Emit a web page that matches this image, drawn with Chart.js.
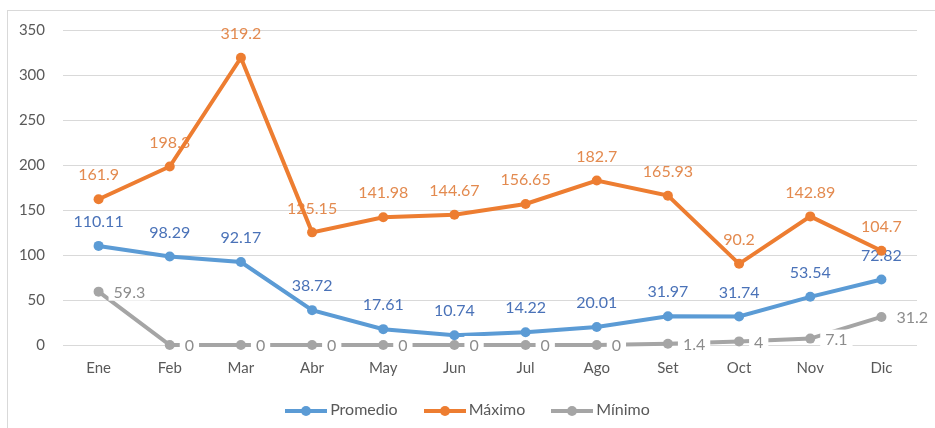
<!DOCTYPE html>
<html>
<head>
<meta charset="utf-8">
<script src="https://cdn.jsdelivr.net/npm/chart.js@4"></script>
<style>
  html, body { margin: 0; padding: 0; background: #fff; }
  #wrap { position: relative; width: 935px; height: 428px; overflow: hidden; }
  #frame { position: absolute; left: 7px; top: 10px; width: 940px; height: 430px; border: 1px solid #d9d9d9; box-sizing: border-box; }
  #chart { position: absolute; left: 0; top: 0; }
  #legend { position: absolute; left: 0; top: 397px; width: 935px; text-align: center; font-family: Lato, "Open Sans", sans-serif; font-size: 16px; color: #595959; }
  .item { display: inline-block; margin: 0 13px; vertical-align: middle; }
  .key { display: inline-block; position: relative; width: 42px; height: 12px; vertical-align: middle; margin-right: 3px; }
  .key .ln { position: absolute; left: 0; right: 0; top: 4px; height: 4px; }
  .key .dt { position: absolute; left: 16px; top: 1px; width: 10px; height: 10px; border-radius: 50%; }
</style>
</head>
<body>
<div id="wrap">
  <div id="frame"></div>
  <canvas id="chart" width="935" height="428"></canvas>
  <div id="legend"></div>
</div>
<script>
const months = ['Ene', 'Feb', 'Mar', 'Abr', 'May', 'Jun', 'Jul', 'Ago', 'Set', 'Oct', 'Nov', 'Dic'];
const promedio = [110.11, 98.29, 92.17, 38.72, 17.61, 10.74, 14.22, 20.01, 31.97, 31.74, 53.54, 72.82];
const maximo = [161.9, 198.3, 319.2, 125.15, 141.98, 144.67, 156.65, 182.7, 165.93, 90.2, 142.89, 104.7];
const minimo = [59.3, 0, 0, 0, 0, 0, 0, 0, 1.4, 4, 7.1, 31.2];
const seriesNames = ['Promedio', 'Máximo', 'Mínimo'];
const seriesColors = ['#5b9bd5', '#ed7d31', '#a5a5a5'];
const labelColors = ['#4a72b8', '#e38a4f', '#8c8c8c'];

const FONT = 'Lato, "Open Sans", sans-serif';

// labels above the line for Promedio / Máximo, drawn under the lines
// labels to the right with a white box for Mínimo, drawn on top
const valueLabels = {
  id: 'valueLabels',
  beforeDatasetsDraw(chart) {
    const ctx = chart.ctx;
    ctx.save();
    ctx.font = '16px ' + FONT;
    ctx.textAlign = 'center';
    ctx.textBaseline = 'middle';
    [0, 1].forEach(i => {
      const meta = chart.getDatasetMeta(i);
      ctx.fillStyle = labelColors[i];
      meta.data.forEach((pt, j) => {
        ctx.fillText(String(chart.data.datasets[i].data[j]), pt.x, pt.y - 24);
      });
    });
    ctx.restore();
  },
  afterDatasetsDraw(chart) {
    const ctx = chart.ctx;
    ctx.save();
    ctx.font = '16px ' + FONT;
    ctx.textAlign = 'left';
    ctx.textBaseline = 'middle';
    const meta = chart.getDatasetMeta(2);
    meta.data.forEach((pt, j) => {
      const txt = String(chart.data.datasets[2].data[j]);
      const w = ctx.measureText(txt).width;
      ctx.fillStyle = '#fff';
      ctx.fillRect(pt.x + 10, pt.y - 9, w + 10, 18);
      ctx.fillStyle = labelColors[2];
      ctx.fillText(txt, pt.x + 15, pt.y + 1);
    });
    ctx.restore();
  }
};

function makeSet(i, data) {
  return {
    label: seriesNames[i],
    data: data,
    borderColor: seriesColors[i],
    backgroundColor: seriesColors[i],
    borderWidth: 4,
    pointRadius: 5,
    pointHoverRadius: 5,
    pointBorderWidth: 0,
    tension: 0,
    clip: false
  };
}

new Chart(document.getElementById('chart'), {
  type: 'line',
  data: {
    labels: months,
    datasets: [makeSet(0, promedio), makeSet(1, maximo), makeSet(2, minimo)]
  },
  options: {
    responsive: false,
    animation: false,
    events: [],
    layout: { padding: { left: 0, right: 18, top: 30, bottom: 43 } },
    plugins: { legend: { display: false }, tooltip: { enabled: false } },
    scales: {
      x: {
        offset: true,
        grid: { display: false, drawTicks: false },
        border: { display: false },
        ticks: { color: '#595959', font: { family: FONT, size: 15 }, padding: 14 },
        afterFit(s) { s.height = 40; }
      },
      y: {
        min: 0,
        max: 350,
        ticks: { stepSize: 50, color: '#595959', font: { family: FONT, size: 15 }, padding: 18 },
        grid: { color: '#d9d9d9', lineWidth: 1, drawTicks: false },
        border: { display: false },
        afterFit(s) { s.width = 63; }
      }
    }
  },
  plugins: [valueLabels]
});

const legend = document.getElementById('legend');
seriesNames.forEach((name, i) => {
  const item = document.createElement('span');
  item.className = 'item';
  item.innerHTML = `<span class="key"><span class="ln" style="background:${seriesColors[i]}"></span><span class="dt" style="background:${seriesColors[i]}"></span></span>${name}`;
  legend.appendChild(item);
});
</script>
</body>
</html>
